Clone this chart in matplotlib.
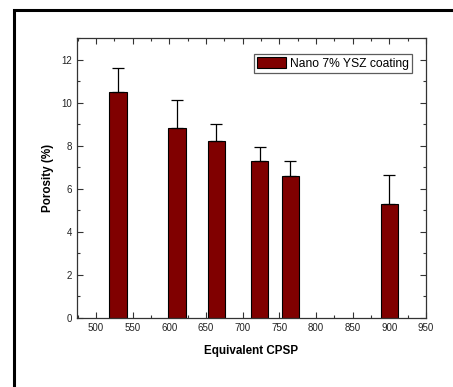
import matplotlib
matplotlib.use("Agg")
import matplotlib.pyplot as plt
from matplotlib.ticker import MultipleLocator
from matplotlib.patches import Rectangle

plt.rcParams['font.family'] = ['Liberation Sans', 'DejaVu Sans']

cpsp = [530, 610, 664, 723, 765, 900]
porosity = [10.5, 8.8, 8.2, 7.3, 6.6, 5.3]
err_upper = [1.1, 1.3, 0.8, 0.65, 0.7, 1.35]
series_label = "Nano 7% YSZ coating"

W, H = 453, 387
fig = plt.figure(figsize=(W / 100, H / 100), dpi=100)

# outer frame (extends beyond right/bottom edges)
fig.patches.append(Rectangle((14.5 / W, -0.1), 1.2, 1 - 10 / H + 0.1,
                             transform=fig.transFigure, fill=False,
                             edgecolor='black', linewidth=2.2))

ax = fig.add_axes([77 / W, 1 - 318 / H, (426 - 77) / W, (318 - 38) / H])
ax.bar(cpsp, porosity, width=24, color='#800000', edgecolor='black',
       linewidth=0.8, label=series_label, zorder=2,
       yerr=[[0] * len(err_upper), err_upper], capsize=4,
       error_kw=dict(ecolor='black', elinewidth=0.9, capthick=0.9))

ax.set_xlim(474, 950)
ax.set_ylim(0, 13)
ax.xaxis.set_major_locator(MultipleLocator(50))
ax.xaxis.set_minor_locator(MultipleLocator(25))
ax.yaxis.set_major_locator(MultipleLocator(2))
ax.yaxis.set_minor_locator(MultipleLocator(1))
ax.set_xticks(range(500, 951, 50))
ax.tick_params(which='both', direction='in', top=True, right=True,
               labelsize=7, width=0.8, color='#333333', labelcolor='#222222')
ax.tick_params(which='major', length=4)
ax.tick_params(which='minor', length=2)
for s in ax.spines.values():
    s.set_linewidth(0.9)
    s.set_color('#333333')

ax.set_xlabel('Equivalent CPSP', fontsize=8.4, fontweight='bold', labelpad=9)
ax.set_ylabel('Porosity (%)', fontsize=8.4, fontweight='bold', labelpad=5)

leg = ax.legend(loc='upper right', fontsize=8.7, frameon=True, fancybox=False,
                shadow=False, borderpad=0.25, handlelength=2.4, handleheight=1.0,
                handletextpad=0.3, borderaxespad=0.0,
                bbox_to_anchor=(0.96, 0.943))
leg.get_frame().set_edgecolor('#333333')
leg.get_frame().set_linewidth(0.9)

fig.savefig('out.png', dpi=100)
